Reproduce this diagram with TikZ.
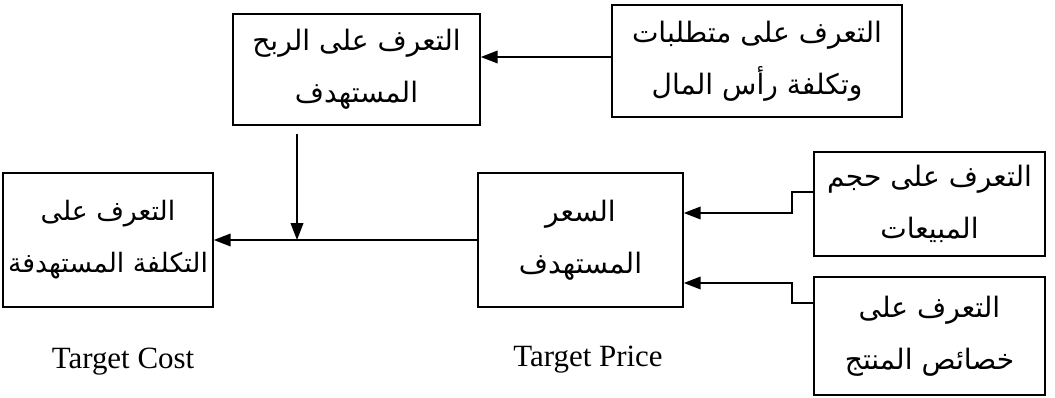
\documentclass[tikz,border=0pt]{standalone}
\usepackage{fontspec}
\setmainfont{Liberation Serif}
\newfontfamily\arabicfont[Script=Arabic]{DejaVu Sans}
\TeXXeTstate=1
\usepackage{tikz}
\usetikzlibrary{arrows.meta, calc, positioning}
\tikzstyle{block} = [rectangle, line width=1.1pt, inner sep=0pt, align=center, draw=black, font=\arabicfont\fontsize{20}{37}\selectfont]
\tikzstyle{arrow} = [line width=1.1pt, -{Triangle[length=12pt,width=9pt]}]
\tikzstyle{engtext} = [font=\fontsize{22}{26}\selectfont]

\begin{document}
\begin{tikzpicture}[x=0.025cm, y=-0.025cm]
	\useasboundingbox (0,0) rectangle (1055,398);
	\node (Capital) [block, minimum width=7.25cm, minimum height=2.8cm] at (757,61) {\beginR التعرف على متطلبات\endR\\\beginR وتكلفة رأس المال\endR};
	\node (Profit) [block, minimum width=6.175cm, minimum height=2.775cm] at (356.5,69.5) {\beginR التعرف على الربح\endR\\\beginR المستهدف\endR};
	\node (Cost) [block, minimum width=5.25cm, minimum height=3.35cm, font=\arabicfont\fontsize{19}{37}\selectfont] at (108,240) {\beginR التعرف على\endR\\\beginR التكلفة المستهدفة\endR};
	\node (Price) [block, minimum width=5.125cm, minimum height=3.35cm] at (580.5,240) {\beginR السعر\endR\\\beginR المستهدف\endR};
	\node (Volume) [block, minimum width=5.775cm, minimum height=2.6cm] at (929.5,204) {\beginR التعرف على حجم\endR\\\beginR المبيعات\endR};
	\node (Features) [block, minimum width=5.775cm, minimum height=2.95cm] at (929.5,336) {\beginR التعرف على\endR\\\beginR خصائص المنتج\endR};
	
	\node (CostLabel) [engtext] at (123,362) {Target Cost};
	\node (PriceLabel) [engtext] at (588,360) {Target Price};
	
	\coordinate (Meet) at (297,240);
	\coordinate (VolumeKnee) at (792,192);
	\coordinate (FeaturesKnee) at (792,303);
	
	\draw [arrow] (Capital.west |- 0,57) -- (Profit.east |- 0,57);
	\draw [arrow] ($(Meet |- Profit.south)+(0,8)$) -- (Meet);
	\draw [arrow] (Price.west) -- (Cost.east);
	\draw [arrow] (Volume.west |- VolumeKnee) -- (VolumeKnee) |- ($(Price.east)+(0,-27)$);
	\draw [arrow] (Features.west |- FeaturesKnee) -- (FeaturesKnee) |- ($(Price.east)+(0,43)$);
\end{tikzpicture}
\end{document}
